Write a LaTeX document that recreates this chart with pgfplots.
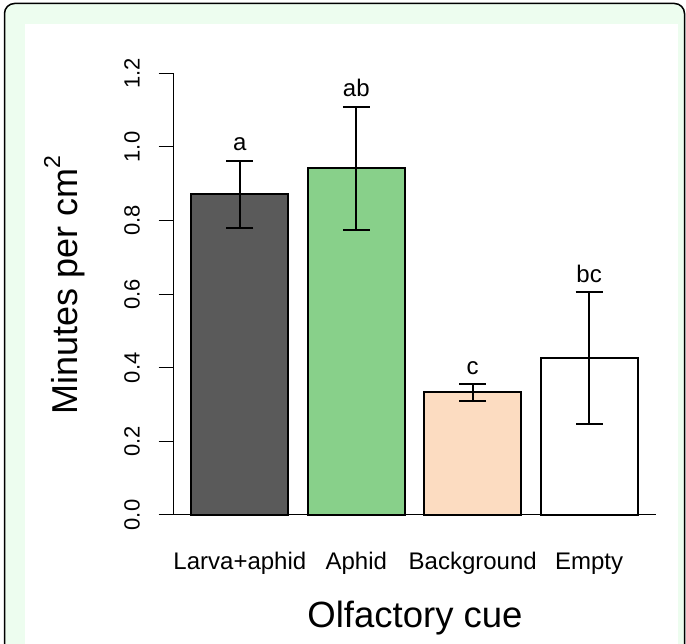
\documentclass[border=0pt]{standalone}
\usepackage{pgfplots}
\pgfplotsset{compat=1.18}
\usepackage{fontspec}
\setmainfont{Liberation Sans}
\definecolor{bgg}{HTML}{EDFDEF}
\definecolor{cA}{HTML}{5A5A5A}
\definecolor{cB}{HTML}{88D08A}
\definecolor{cC}{HTML}{FCDCC1}
\definecolor{cD}{HTML}{FFFFFF}
\newcommand{\fs}[1]{\fontsize{#1}{#1}\selectfont}
\begin{document}
\begin{tikzpicture}
\clip (0bp,0bp) rectangle (686bp,644bp);
\fill[white] (0bp,0bp) rectangle (686bp,644bp);
\draw[rounded corners=10bp, line width=1.5bp, fill=bgg] (4.5bp,-30bp) rectangle (684.5bp,640.5bp);
\fill[white] (25bp,-10bp) rectangle (678bp,620bp);
\begin{axis}[
  at={(173.5bp,129bp)}, anchor=south west,
  width=482bp, height=441.6bp, scale only axis,
  xmin=0.016, xmax=4.984, ymin=0, ymax=1.2,
  clip=false,
  axis x line=bottom, axis y line=left,
  axis line style={-, line width=1bp, black},
  tick align=outside, major tick length=15bp,
  ytick={0,0.2,0.4,0.6,0.8,1.0,1.2},
  yticklabels={0.0,0.2,0.4,0.6,0.8,1.0,1.2},
  ytick style={line width=1bp, black},
  yticklabel style={rotate=90, anchor=base, inner sep=0pt, font=\fs{22bp}},
  yticklabel shift=19bp,
  xtick={0.7,1.9,3.1,4.3},
  xticklabels={Larva+aphid,Aphid,Background,Empty},
  xtick style={draw=none},
  xticklabel style={anchor=base, inner sep=0pt, font=\fs{24bp}, yshift=-39bp},
  error bars/y dir=both, error bars/y explicit,
  error bars/error bar style={line width=2bp, black},
  error bars/error mark options={rotate=90, line width=2bp, mark size=13.5bp, black},
]
\addplot[ybar, bar width=1, bar shift=0pt, fill=cA, draw=black, line width=2bp]
  coordinates {(0.7,0.872) +- (0,0.091)};
\addplot[ybar, bar width=1, bar shift=0pt, fill=cB, draw=black, line width=2bp]
  coordinates {(1.9,0.942) +- (0,0.167)};
\addplot[ybar, bar width=1, bar shift=0pt, fill=cC, draw=black, line width=2bp]
  coordinates {(3.1,0.333) +- (0,0.022)};
\addplot[ybar, bar width=1, bar shift=0pt, fill=cD, draw=black, line width=2bp]
  coordinates {(4.3,0.426) +- (0,0.179)};
\node[anchor=base, yshift=10bp, font=\fs{24bp}] at (axis cs:0.7,0.963) {a};
\node[anchor=base, yshift=10bp, font=\fs{24bp}] at (axis cs:1.9,1.109) {ab};
\node[anchor=base, yshift=10bp, font=\fs{24bp}] at (axis cs:3.1,0.355) {c};
\node[anchor=base, yshift=10bp, font=\fs{24bp}] at (axis cs:4.3,0.605) {bc};
\end{axis}
\node[rotate=90, anchor=base, font=\fs{36bp}] at (77bp,359bp)
  {Minutes per cm\raisebox{17bp}{\fs{23bp}2}};
\node[anchor=base, font=\fs{36.5bp}] at (415bp,17bp) {Olfactory cue};
\end{tikzpicture}
\end{document}
